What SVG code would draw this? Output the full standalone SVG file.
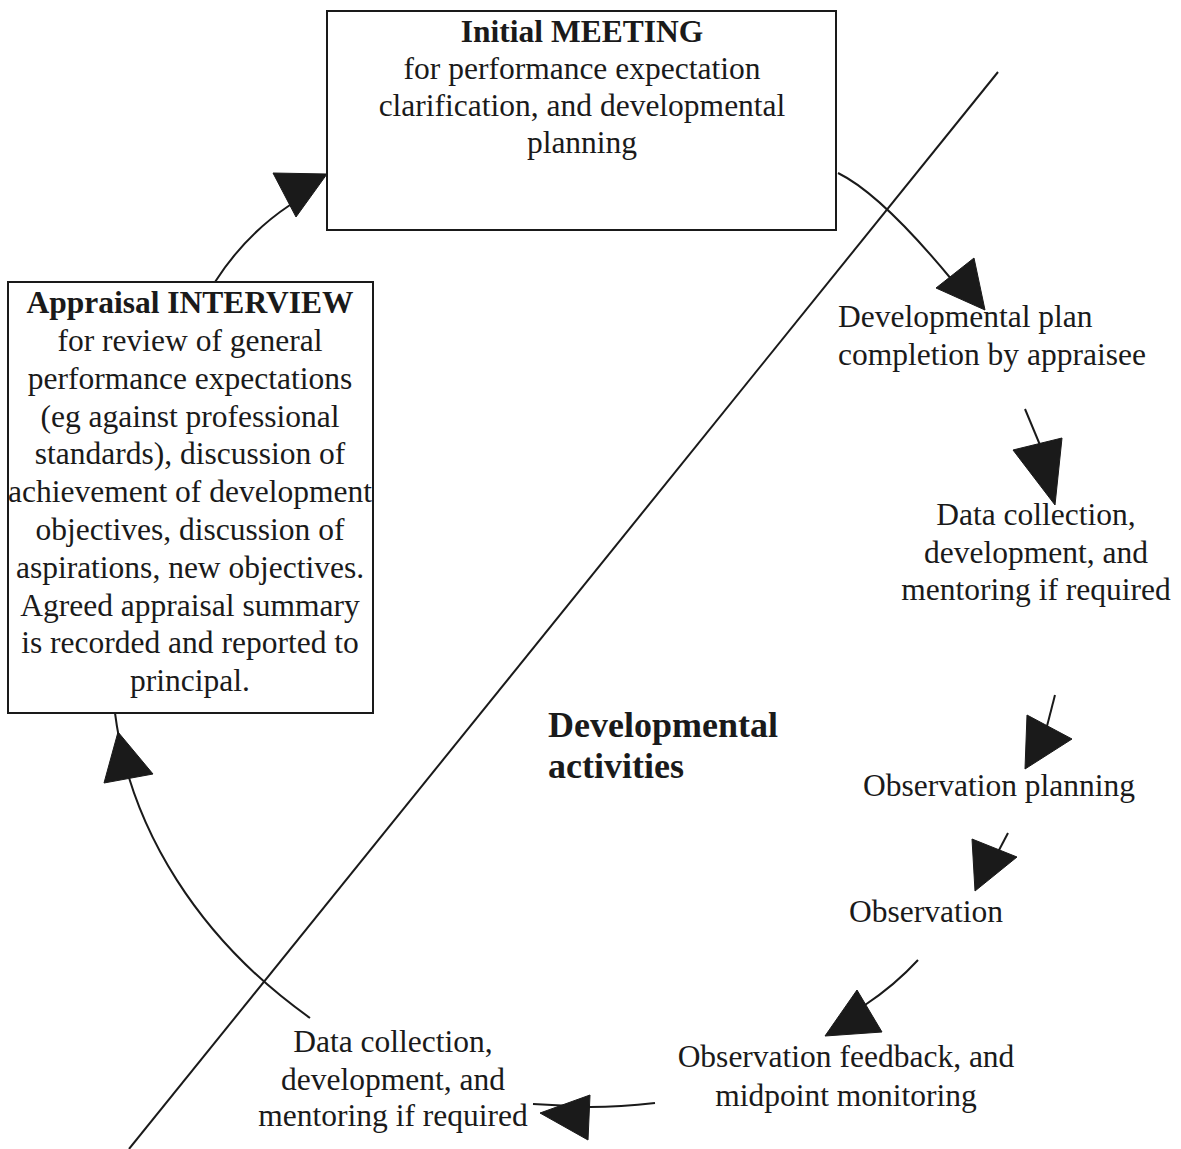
<svg xmlns="http://www.w3.org/2000/svg" width="1181" height="1149" viewBox="0 0 1181 1149">
<style>
text{font-family:"Liberation Serif","Times New Roman",serif;font-size:31.5px;fill:#1a1a1a}
.b{font-weight:bold}
.c{text-anchor:middle}
.box{fill:#fff;stroke:#1a1a1a;stroke-width:2}
.ln{fill:none;stroke:#1a1a1a;stroke-width:2}
.ah{fill:#1a1a1a;stroke:#1a1a1a;stroke-width:1;stroke-linejoin:round}
</style>
<rect width="1181" height="1149" fill="#fff"/>
<line class="ln" x1="998" y1="72" x2="129" y2="1149"/>
<g id="connectors">
<path class="ln" d="M215,282 Q245,235 290,205"/>
<polygon class="ah" points="273,173 327,174 296,217"/>
<path class="ln" d="M838,173 Q881,194 952,280"/>
<polygon class="ah" points="974,258 936,288 985,310"/>
<path class="ln" d="M1025,409 L1040,445"/>
<polygon class="ah" points="1013,450 1062,438 1055,505"/>
<path class="ln" d="M1055,695 L1046,730"/>
<polygon class="ah" points="1027,715 1072,739 1025,769"/>
<path class="ln" d="M1008,833 L998,852"/>
<polygon class="ah" points="972,839 1017,857 975,891"/>
<path class="ln" d="M918,960 Q895,985 865,1005"/>
<polygon class="ah" points="857,990 882,1032 825,1036"/>
<path class="ln" d="M655,1103 Q620,1107 590,1107 L533,1104"/>
<polygon class="ah" points="590,1095 588,1140 540,1113"/>
<path class="ln" d="M310,1018 C200,940 130,830 115,713"/>
<polygon class="ah" points="118,732 153,774 104,783"/>
</g>
<g id="meeting">
<rect class="box" x="327" y="11" width="509" height="219"/>
<text class="c b" x="582" y="42">Initial MEETING</text>
<text class="c" x="582" y="79">for performance expectation</text>
<text class="c" x="582" y="116">clarification, and developmental</text>
<text class="c" x="582" y="153">planning</text>
</g>
<g id="interview">
<rect class="box" x="8" y="282" width="365" height="431"/>
<text class="c b" x="190" y="313">Appraisal INTERVIEW</text>
<text class="c" x="190" y="351">for review of general</text>
<text class="c" x="190" y="389">performance expectations</text>
<text class="c" x="190" y="427">(eg against professional</text>
<text class="c" x="190" y="464">standards), discussion of</text>
<text class="c" x="190" y="502">achievement of development</text>
<text class="c" x="190" y="540">objectives, discussion of</text>
<text class="c" x="190" y="578">aspirations, new objectives.</text>
<text class="c" x="190" y="616">Agreed appraisal summary</text>
<text class="c" x="190" y="653">is recorded and reported to</text>
<text class="c" x="190" y="691">principal.</text>
</g>
<g id="devplan">
<text x="838" y="327">Developmental plan</text>
<text x="838" y="365">completion by appraisee</text>
</g>
<g id="datacollection1">
<text class="c" x="1036" y="525">Data collection,</text>
<text class="c" x="1036" y="563">development, and</text>
<text class="c" x="1036" y="600">mentoring if required</text>
</g>
<g id="obsplanning">
<text class="c" x="999" y="796">Observation planning</text>
</g>
<g id="observation">
<text class="c" x="926" y="922">Observation</text>
</g>
<g id="feedback">
<text class="c" x="846" y="1067">Observation feedback, and</text>
<text class="c" x="846" y="1106">midpoint monitoring</text>
</g>
<g id="datacollection2">
<text class="c" x="393" y="1052">Data collection,</text>
<text class="c" x="393" y="1090">development, and</text>
<text class="c" x="393" y="1126">mentoring if required</text>
</g>
<g id="devactivities">
<text class="b" x="548" y="737" style="font-size:36px">Developmental</text>
<text class="b" x="548" y="778" style="font-size:36px">activities</text>
</g>
</svg>
